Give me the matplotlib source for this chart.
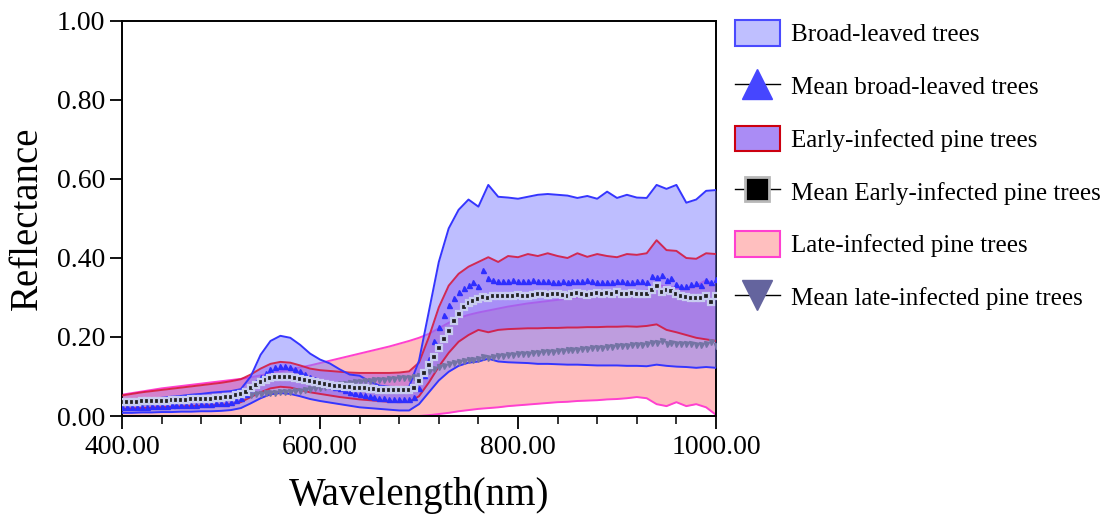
import numpy as np
import matplotlib
matplotlib.use("Agg")
import matplotlib.pyplot as plt
from matplotlib.patches import Patch
from matplotlib.lines import Line2D
from matplotlib.ticker import MultipleLocator, FormatStrFormatter

plt.rcParams['font.family'] = ['Liberation Serif', 'DejaVu Serif']

# ---------------- data ----------------
wl10 = list(range(400, 1001, 10))
wl5 = list(range(400, 1001, 5))

broad_hi = [.036, .039, .041, .044, .046, .049, .051, .054, .056, .059, .061, .063, .068, .100, .155, .190, .203, .198, .180, .158,
            .143, .133, .118, .105, .102, .088, .077, .074, .073, .074, .140, .265, .390, .475, .522, .548, .530, .585, .555, .553,
            .550, .555, .560, .562, .560, .558, .552, .557, .550, .568, .552, .560, .553, .552, .585, .575, .585, .540, .548, .570, .572]
broad_lo = [.008, .008, .009, .009, .010, .010, .011, .011, .012, .012, .013, .015, .020, .032, .045, .055, .058, .056, .050, .043,
            .038, .034, .030, .026, .022, .020, .018, .016, .014, .014, .030, .060, .090, .112, .127, .135, .138, .145, .138, .136,
            .135, .134, .132, .132, .131, .130, .130, .129, .128, .128, .128, .127, .127, .126, .130, .127, .125, .124, .122, .124, .122]
early_hi = [.052, .056, .060, .063, .066, .069, .072, .075, .078, .081, .084, .088, .093, .105, .120, .132, .137, .135, .128, .120,
            .116, .114, .112, .110, .109, .109, .109, .109, .110, .113, .135, .200, .275, .330, .360, .378, .390, .402, .390, .405,
            .402, .410, .405, .412, .405, .400, .412, .403, .410, .405, .402, .410, .408, .412, .445, .420, .418, .400, .398, .412, .410]
early_lo = [.018, .019, .020, .021, .022, .023, .024, .025, .026, .027, .028, .030, .035, .048, .060, .070, .074, .072, .066, .060,
            .056, .052, .048, .045, .042, .040, .038, .036, .035, .036, .050, .085, .125, .160, .188, .205, .218, .212, .218, .220,
            .221, .222, .222, .223, .223, .224, .224, .225, .225, .226, .226, .227, .226, .228, .232, .218, .212, .205, .198, .194, .190]
late_hi = [.054, .058, .062, .066, .070, .073, .076, .079, .082, .085, .088, .091, .094, .098, .103, .108, .113, .118, .123, .128,
           .134, .140, .146, .152, .158, .164, .170, .176, .183, .190, .198, .208, .222, .236, .248, .256, .262, .267, .272, .277,
           .281, .285, .288, .291, .294, .297, .300, .302, .305, .307, .309, .312, .315, .318, .332, .328, .325, .322, .330, .344, .330]
late_lo = [.000, .000, .000, .000, .000, .000, .000, .000, .000, .000, .000, .000, .000, .000, .000, .000, .000, .000, .000, .000,
           .000, .000, .000, .000, .000, .000, .000, .000, .000, .000, .000, .002, .005, .008, .012, .015, .018, .020, .022, .025,
           .027, .029, .031, .033, .035, .036, .038, .039, .040, .042, .043, .045, .048, .045, .030, .025, .035, .025, .030, .022, .003]

broad_mean = [.022, .022, .023, .023, .024, .024, .025, .025, .026, .026, .027, .027, .028, .028, .029, .029, .030, .030, .031, .032,
              .033, .034, .036, .040, .046, .056, .070, .085, .098, .110, .119, .124, .126, .126, .124, .120, .114, .107, .100, .094,
              .088, .083, .078, .074, .070, .066, .062, .059, .056, .053, .050, .048, .046, .045, .044, .044, .044, .044, .044, .048,
              .070, .105, .145, .190, .225, .255, .280, .300, .315, .325, .332, .340, .330, .370, .350, .345, .343, .343, .343, .344,
              .343, .342, .343, .344, .343, .343, .342, .340, .340, .341, .340, .343, .342, .343, .344, .341, .339, .340, .338, .340,
              .341, .343, .339, .340, .342, .341, .338, .355, .352, .358, .345, .350, .335, .328, .330, .333, .336, .332, .345, .338, .347]
early_mean = [.035, .035, .036, .036, .037, .037, .038, .038, .039, .039, .040, .040, .041, .041, .042, .042, .043, .043, .044, .045,
              .046, .047, .049, .052, .056, .062, .070, .078, .085, .091, .096, .099, .100, .100, .099, .097, .094, .091, .088, .085,
              .083, .081, .079, .077, .076, .074, .073, .072, .071, .070, .069, .068, .067, .067, .066, .066, .066, .066, .066, .070,
              .088, .110, .130, .150, .172, .195, .215, .240, .258, .275, .285, .290, .297, .302, .300, .303, .305, .304, .305, .303,
              .306, .305, .305, .306, .308, .310, .306, .310, .308, .306, .305, .309, .312, .308, .306, .310, .311, .309, .311, .310,
              .313, .310, .309, .311, .310, .309, .310, .318, .328, .315, .320, .316, .310, .305, .302, .300, .298, .300, .305, .288, .303]
late_mean = [.028, .029, .030, .031, .032, .033, .034, .035, .036, .037, .038, .039, .040, .041, .042, .043, .044, .045, .046, .047,
             .048, .049, .050, .051, .052, .053, .054, .055, .056, .057, .058, .059, .060, .061, .062, .063, .064, .066, .068, .070,
             .072, .074, .076, .078, .080, .082, .083, .085, .086, .088, .089, .090, .091, .092, .093, .094, .095, .096, .097, .099,
             .102, .107, .113, .118, .123, .127, .131, .134, .137, .139, .141, .143, .145, .149, .147, .149, .151, .152, .154, .155,
             .156, .157, .158, .159, .160, .161, .162, .163, .164, .165, .166, .167, .168, .169, .170, .171, .172, .173, .174, .175,
             .177, .178, .178, .179, .181, .181, .182, .186, .184, .190, .182, .185, .183, .183, .182, .182, .181, .180, .182, .188, .178]

labels = ["Broad-leaved trees", "Mean broad-leaved trees", "Early-infected pine trees",
          "Mean Early-infected pine trees", "Late-infected pine trees", "Mean late-infected pine trees"]

# ---------------- figure ----------------
fig = plt.figure(figsize=(11.07, 5.19), dpi=100)
ax = fig.add_axes([122 / 1107, 1 - 416 / 519, (716 - 122) / 1107, (416 - 21) / 519])

late_fill = '#ff7d7d'
broad_fill = '#7f7fff'
early_fill = '#a848e0'
c_blue = '#3535ff'
c_red = '#d41a40'
c_mag = '#ff40d0'

ax.fill_between(wl10, late_lo, late_hi, color=late_fill, alpha=0.5, lw=0, zorder=1)
ax.plot(wl10, late_hi, color=c_mag, lw=1.4, zorder=1.1)
ax.plot(wl10, late_lo, color=c_mag, lw=1.4, zorder=1.1)

ax.fill_between(wl10, early_lo, early_hi, color=early_fill, alpha=0.5, lw=0, zorder=2)
ax.fill_between(wl10, broad_lo, broad_hi, color=broad_fill, alpha=0.5, lw=0, zorder=3)

ax.plot(wl10, early_hi, color=c_red, lw=1.4, alpha=0.9, zorder=3.05)
ax.plot(wl10, early_lo, color=c_red, lw=1.4, alpha=0.9, zorder=3.05)
ax.plot(wl10, broad_hi, color=c_blue, lw=1.4, zorder=3.1)
ax.plot(wl10, broad_lo, color=c_blue, lw=1.4, zorder=3.1)

ax.plot(wl5, late_mean, ls='none', marker='v', ms=3.6, color='#7474a4', zorder=5)
ax.plot(wl5, broad_mean, ls='none', marker='^', ms=3.6, color='#2e2eff', zorder=5)
ax.plot(wl5, early_mean, ls='none', marker='s', ms=4.0, mfc='#222222', mec='#c8ccf0', mew=1.6, zorder=6)

ax.set_xlim(400, 1000)
ax.set_ylim(0, 1.0)
ax.xaxis.set_major_locator(MultipleLocator(200))
ax.xaxis.set_minor_locator(MultipleLocator(40))
ax.yaxis.set_major_locator(MultipleLocator(0.2))
ax.xaxis.set_major_formatter(FormatStrFormatter('%.2f'))
ax.yaxis.set_major_formatter(FormatStrFormatter('%.2f'))
ax.tick_params(which='major', direction='out', length=9, width=1.3, labelsize=20, pad=3)
ax.tick_params(axis='x', which='major', pad=5)
ax.tick_params(which='minor', direction='out', length=5.5, width=1.1)
for s in ax.spines.values():
    s.set_linewidth(1.4)

ax.set_xlabel("Wavelength(nm)", fontsize=28, labelpad=12)
ax.set_ylabel("Reflectance", fontsize=28, labelpad=8)

handles = [
    Patch(facecolor='#bfbfff', edgecolor='#4a4aff', lw=1.5),
    Line2D([0], [0], color='black', lw=1, marker='^', ms=22, mfc='#4646ff', mec='#4646ff'),
    Patch(facecolor='#aa8cf5', edgecolor='#cc0010', lw=1.5),
    Line2D([0], [0], color='black', lw=1, marker='s', ms=17, mfc='black', mec='#b8b8b8', mew=2),
    Patch(facecolor='#ffbfbf', edgecolor='#ff40d0', lw=1.5),
    Line2D([0], [0], color='black', lw=1, marker='v', ms=22, mfc='#64649e', mec='#64649e'),
]
fig.legend(handles, labels, loc='upper left', bbox_to_anchor=(735 / 1107, 0.961), frameon=False,
           fontsize=18, handlelength=1.8, handleheight=1.2, labelspacing=1.06, handletextpad=0.45,
           borderpad=0, borderaxespad=0)

fig.savefig("out.png", dpi=100)
